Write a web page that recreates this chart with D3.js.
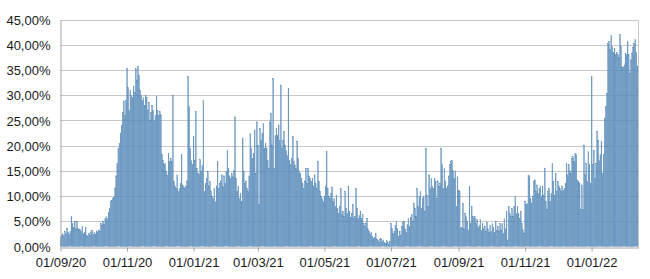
<!DOCTYPE html>
<html>
<head>
<meta charset="utf-8">
<script src="https://cdn.jsdelivr.net/npm/d3@7"></script>
<style>
  body { margin: 0; background: #fff; }
  text { font-family: "Liberation Sans", Arial, sans-serif; fill: #1a1a1a; }
</style>
</head>
<body>
<div id="chart"></div>
<script>
// daily values (%) from 01/09/20, one array per month
const sep20 = [1.8, 2.2, 2.5, 2.0, 3.0, 2.5, 3.6, 2.8, 2.4, 3.0, 5.9, 4.5, 3.8, 5.0, 3.5, 5.0, 3.6, 3.3, 3.4, 3.0, 4.0, 2.5, 2.8, 3.8, 2.2, 2.0, 2.6, 2.3, 2.9, 3.2]
const oct20 = [2.4, 2.8, 2.5, 3.1, 2.9, 3.3, 3.0, 4.6, 4.2, 5.0, 4.4, 5.6, 5.9, 5.5, 6.8, 7.5, 8.9, 9.2, 9.5, 9.8, 11.6, 14.0, 16.5, 19.5, 20.5, 22.5, 24.0, 26.5, 28.7, 26.0, 29.0]
const nov20 = [35.3, 31.5, 27.0, 31.0, 30.0, 29.5, 31.8, 30.5, 35.3, 33.0, 35.7, 34.0, 31.0, 30.0, 29.0, 29.5, 28.0, 30.0, 29.5, 27.0, 28.5, 25.0, 26.5, 28.0, 27.0, 25.0, 26.0, 29.7, 27.0, 26.0]
const dec20 = [26.7, 26.1, 18.2, 17.0, 16.2, 16.5, 15.0, 14.2, 18.5, 16.8, 17.5, 16.8, 30.0, 12.9, 12.0, 11.5, 14.2, 10.9, 11.5, 12.5, 18.2, 12.2, 11.8, 11.5, 12.0, 13.0, 33.7, 27.7, 19.5, 17.0, 16.2]
const jan21 = [21.8, 17.0, 26.7, 15.5, 14.5, 14.2, 17.2, 15.0, 16.0, 29.0, 10.9, 12.5, 13.5, 14.9, 12.0, 12.9, 11.0, 10.0, 9.5, 11.5, 8.9, 12.0, 16.8, 11.5, 12.5, 13.0, 14.2, 11.8, 14.0, 12.5, 14.9]
const feb21 = [19.1, 15.5, 14.0, 13.5, 14.5, 13.8, 15.0, 25.7, 13.5, 11.0, 12.0, 9.5, 10.5, 8.9, 21.5, 14.9, 12.5, 13.0, 11.5, 10.9, 14.0, 22.4, 19.5, 17.5, 18.5, 23.1, 14.5, 24.7]
const mar21 = [20.0, 8.3, 23.4, 21.0, 22.5, 24.4, 19.5, 20.5, 19.5, 17.0, 15.5, 24.7, 26.4, 20.0, 33.3, 15.5, 22.0, 23.4, 22.0, 24.1, 21.0, 32.0, 19.5, 21.0, 22.8, 20.1, 19.0, 18.0, 31.4, 17.0, 16.2]
const apr21 = [17.5, 21.8, 16.8, 16.0, 15.5, 20.9, 17.5, 15.0, 14.5, 13.5, 12.5, 11.5, 13.0, 15.5, 12.5, 15.5, 14.0, 13.5, 12.9, 13.5, 12.0, 14.2, 12.5, 11.5, 16.8, 12.9, 11.0, 10.0, 9.5, 8.9]
const may21 = [10.0, 12.0, 18.8, 11.5, 10.0, 9.5, 10.5, 11.8, 8.9, 9.5, 8.0, 10.2, 7.5, 6.5, 8.0, 11.5, 6.3, 7.0, 6.0, 10.9, 7.6, 6.5, 12.0, 7.0, 5.8, 6.5, 8.3, 5.6, 6.0, 11.5, 7.6]
const jun21 = [5.6, 6.2, 7.0, 5.5, 6.3, 4.6, 4.0, 4.5, 5.6, 3.5, 3.0, 2.5, 2.8, 2.0, 1.6, 1.8, 2.6, 1.5, 1.2, 0.8, 1.4, 1.6, 1.0, 1.3, 0.8, 0.6, 1.2, 0.9, 0.5, 1.0]
const jul21 = [4.6, 3.6, 2.5, 3.0, 4.2, 5.0, 3.5, 2.0, 3.0, 2.2, 4.0, 4.8, 5.0, 3.5, 2.8, 4.3, 5.5, 4.0, 5.8, 6.3, 5.0, 8.6, 7.6, 6.0, 11.5, 8.0, 9.9, 10.9, 7.5, 9.6, 10.0]
const aug21 = [7.0, 19.5, 10.2, 8.0, 14.2, 11.5, 13.5, 12.0, 11.5, 13.5, 12.9, 9.5, 13.0, 11.9, 12.5, 19.5, 16.2, 11.5, 15.5, 13.0, 11.5, 12.0, 14.0, 16.2, 16.8, 17.0, 15.0, 13.5, 15.0, 8.0, 13.8]
const sep21 = [11.2, 11.0, 3.6, 3.8, 8.6, 3.5, 6.6, 5.9, 5.0, 3.3, 11.9, 4.5, 7.9, 6.0, 5.5, 5.9, 4.5, 5.3, 3.8, 4.2, 5.3, 3.2, 4.5, 3.5, 4.0, 3.0, 4.8, 3.5, 2.8, 4.2]
const oct21 = [3.0, 4.5, 3.8, 2.8, 4.9, 3.2, 4.0, 3.0, 4.6, 3.3, 4.5, 2.6, 5.5, 3.5, 7.0, 1.3, 7.9, 6.5, 5.9, 7.5, 6.0, 8.0, 9.9, 6.5, 7.9, 6.5, 5.5, 7.0, 4.6, 3.3, 2.6]
const nov21 = [8.9, 8.3, 8.5, 14.2, 14.0, 9.5, 8.6, 9.9, 12.9, 13.2, 11.0, 12.2, 10.5, 11.5, 12.0, 10.0, 11.9, 10.2, 15.5, 9.0, 7.3, 11.0, 11.5, 8.9, 10.5, 16.5, 12.9, 10.2, 14.5, 11.0]
const dec21 = [12.9, 12.0, 11.5, 10.9, 12.0, 11.2, 11.5, 12.5, 16.5, 14.2, 16.2, 15.0, 14.5, 17.5, 17.8, 16.8, 18.5, 18.2, 13.2, 12.9, 12.5, 7.3, 12.2, 7.3, 20.1, 14.2, 16.5, 12.9, 18.8, 16.2, 12.5]
const jan22 = [33.7, 16.2, 19.0, 13.5, 16.5, 22.8, 21.1, 17.0, 18.2, 20.9, 14.5, 18.2, 25.4, 27.7, 30.4, 40.2, 40.6, 39.0, 41.9, 39.6, 38.5, 39.3, 38.0, 38.5, 38.0, 37.5, 42.0, 39.6, 35.6, 35.6, 36.0]
const feb22 = [38.3, 38.0, 40.6, 38.0, 34.3, 37.0, 38.3, 39.5, 40.2, 41.0, 38.5, 35.8]

const xTickLabels = ["01/09/20", "01/11/20", "01/01/21", "01/03/21", "01/05/21", "01/07/21", "01/09/21", "01/11/21", "01/01/22"]
const yTicks = [0, 5, 10, 15, 20, 25, 30, 35, 40, 45]

const W = 650, H = 279
const MARGIN = { LEFT: 60, RIGHT: 12, TOP: 19.5, BOTTOM: 32.5 }

const parseDay = d3.utcParse("%d/%m/%y")
const start = parseDay("01/09/20")

const values = [].concat(sep20, oct20, nov20, dec20, jan21, feb21, mar21, apr21, may21,
  jun21, jul21, aug21, sep21, oct21, nov21, dec21, jan22, feb22)
const data = values.map((v, i) => ({ date: d3.utcDay.offset(start, i), value: v }))

const svg = d3.select("#chart").append("svg")
  .attr("width", W)
  .attr("height", H)

const x = d3.scaleUtc()
  .domain([start, d3.utcDay.offset(start, values.length)])
  .range([MARGIN.LEFT, W - MARGIN.RIGHT])
const y = d3.scaleLinear()
  .domain([0, 45])
  .range([H - MARGIN.BOTTOM, MARGIN.TOP])

// grid
svg.append("g")
  .selectAll("line")
  .data(yTicks.slice(1))
  .join("line")
  .attr("x1", MARGIN.LEFT)
  .attr("x2", W - MARGIN.RIGHT)
  .attr("y1", d => Math.round(y(d)) + 0.5)
  .attr("y2", d => Math.round(y(d)) + 0.5)
  .attr("stroke", "#c8c8c8")

// right border
svg.append("line")
  .attr("x1", Math.round(W - MARGIN.RIGHT) + 0.5)
  .attr("x2", Math.round(W - MARGIN.RIGHT) + 0.5)
  .attr("y1", Math.round(y(45)) + 0.5)
  .attr("y2", Math.round(y(0)) + 0.5)
  .attr("stroke", "#c8c8c8")

// bars
const step = x(d3.utcDay.offset(start, 1)) - x(start)
svg.append("g")
  .selectAll("rect")
  .data(data)
  .join("rect")
  .attr("x", d => x(d.date) + step * 0.15)
  .attr("width", step * 0.7)
  .attr("y", d => y(d.value))
  .attr("height", d => y(0) - y(d.value))
  .attr("fill", "#7eaad1")
  .attr("stroke", "#3f76a8")
  .attr("stroke-width", 0.35)

// y axis
const yAxis = svg.append("g")
  .attr("transform", `translate(${MARGIN.LEFT + 0.5}, 0.5)`)
  .call(d3.axisLeft(y)
    .tickValues(yTicks)
    .tickSize(0)
    .tickPadding(10)
    .tickFormat(d => d.toFixed(2).replace(".", ",") + "%"))
yAxis.select(".domain").attr("stroke", "#a6a6a6")
yAxis.selectAll("text")
  .attr("font-size", "13px")
  .attr("font-family", "Liberation Sans, Arial, sans-serif")
  .attr("fill", "#1a1a1a")

// x axis
const xAxis = svg.append("g")
  .attr("transform", `translate(0.5, ${Math.round(y(0)) + 0.5})`)
  .call(d3.axisBottom(x)
    .tickValues(xTickLabels.map(parseDay))
    .tickSize(4)
    .tickSizeOuter(0)
    .tickPadding(6)
    .tickFormat(d3.utcFormat("%d/%m/%y")))
xAxis.select(".domain").attr("stroke", "#a6a6a6")
xAxis.selectAll("line").attr("stroke", "#a6a6a6")
xAxis.selectAll("text")
  .attr("font-size", "13px")
  .attr("font-family", "Liberation Sans, Arial, sans-serif")
  .attr("fill", "#1a1a1a")
</script>
</body>
</html>
